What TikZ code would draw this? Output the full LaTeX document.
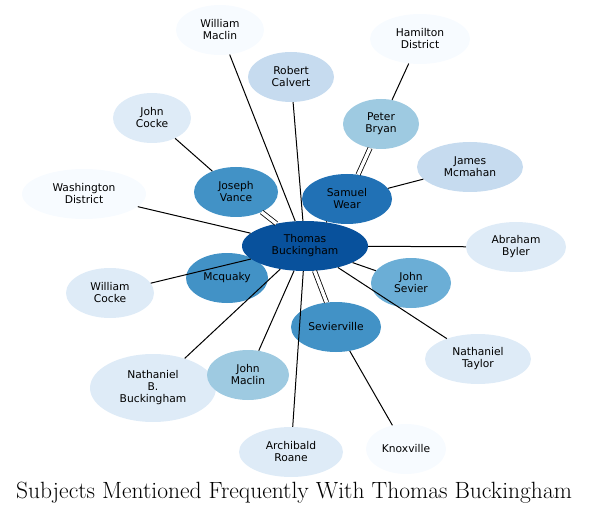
\documentclass[tikz,border=0pt]{standalone}
\usepackage{fontspec}
\newfontfamily\nodefont{DejaVu Sans}
\usetikzlibrary{shapes.geometric}
\definecolor{blueA}{HTML}{08519C}
\definecolor{blueB}{HTML}{2171B5}
\definecolor{blueC}{HTML}{4292C6}
\definecolor{blueD}{HTML}{6BAED6}
\definecolor{blueE}{HTML}{9ECAE1}
\definecolor{blueF}{HTML}{C6DBEF}
\definecolor{blueG}{HTML}{DEEBF7}
\definecolor{blueH}{HTML}{F7FBFF}
\tikzset{
  subj/.style={ellipse,draw=none,inner sep=0pt,align=center,
    font=\nodefont\fontsize{10.7}{12}\selectfont,minimum height=50pt},
  link/.style={draw=black,line width=1pt},
  twin/.style={link,double=white,double distance=3.4pt,line width=0.8pt}
}
\begin{document}
\begin{tikzpicture}[x=1pt,y=-1pt]
\useasboundingbox (0,0) rectangle (589,513);
% outer ring
\node[subj,fill=blueH,minimum width=88pt] (wmaclin) at (220,30) {William\\Maclin};
\node[subj,fill=blueF,minimum width=86pt] (rcalvert) at (291,77) {Robert\\Calvert};
\node[subj,fill=blueH,minimum width=100pt] (hamilton) at (420,39) {Hamilton\\District};
\node[subj,fill=blueG,minimum width=78pt] (jcocke) at (152,118) {John\\Cocke};
\node[subj,fill=blueE,minimum width=76pt] (pbryan) at (381,124) {Peter\\Bryan};
\node[subj,fill=blueF,minimum width=106pt] (jmcmahan) at (470,167) {James\\Mcmahan};
\node[subj,fill=blueH,minimum width=124pt] (washington) at (84,194) {Washington\\District};
\node[subj,fill=blueG,minimum width=100pt] (abyler) at (516,247) {Abraham\\Byler};
\node[subj,fill=blueG,minimum width=88pt] (wcocke) at (110,293) {William\\Cocke};
\node[subj,fill=blueG,minimum width=106pt] (ntaylor) at (478,359) {Nathaniel\\Taylor};
\node[subj,fill=blueG,minimum width=126pt,minimum height=68pt] (nbb) at (153,388) {Nathaniel\\B.\\Buckingham};
\node[subj,fill=blueG,minimum width=104pt] (aroane) at (291,452) {Archibald\\Roane};
\node[subj,fill=blueH,minimum width=80pt] (knoxville) at (406,449) {Knoxville};
% inner ring
\node[subj,fill=blueC,minimum width=84pt] (jvance) at (236,192) {Joseph\\Vance};
\node[subj,fill=blueB,minimum width=90pt] (swear) at (347,199) {Samuel\\Wear};
\node[subj,fill=blueC,minimum width=82pt] (mcquaky) at (227,278) {Mcquaky};
\node[subj,fill=blueD,minimum width=80pt] (jsevier) at (411,283) {John\\Sevier};
\node[subj,fill=blueC,minimum width=90pt] (sevierville) at (336,327) {Sevierville};
\node[subj,fill=blueE,minimum width=82pt] (jmaclin) at (248,375) {John\\Maclin};
\node[subj,fill=blueA,minimum width=126pt] (thomas) at (305,246) {Thomas\\Buckingham};
% links
\draw[link] (thomas)--(wmaclin) (thomas)--(rcalvert) (thomas)--(washington)
  (thomas)--(swear) (thomas)--(abyler) (thomas)--(wcocke)
  (thomas)--(jsevier) (thomas)--(ntaylor) (thomas)--(nbb)
  (thomas)--(jmaclin) (thomas)--(aroane);
\draw[link] (jvance)--(jcocke) (pbryan)--(hamilton) (swear)--(jmcmahan)
  (sevierville)--(knoxville);
\draw[twin] (thomas)--(jvance);
\draw[twin] (swear)--(pbryan);
\draw[twin] (thomas)--(sevierville);
\node[anchor=base,font=\fontsize{23.5}{28}\selectfont] (title) at (294,498)
  {Subjects Mentioned Frequently With Thomas Buckingham};
\end{tikzpicture}
\end{document}
